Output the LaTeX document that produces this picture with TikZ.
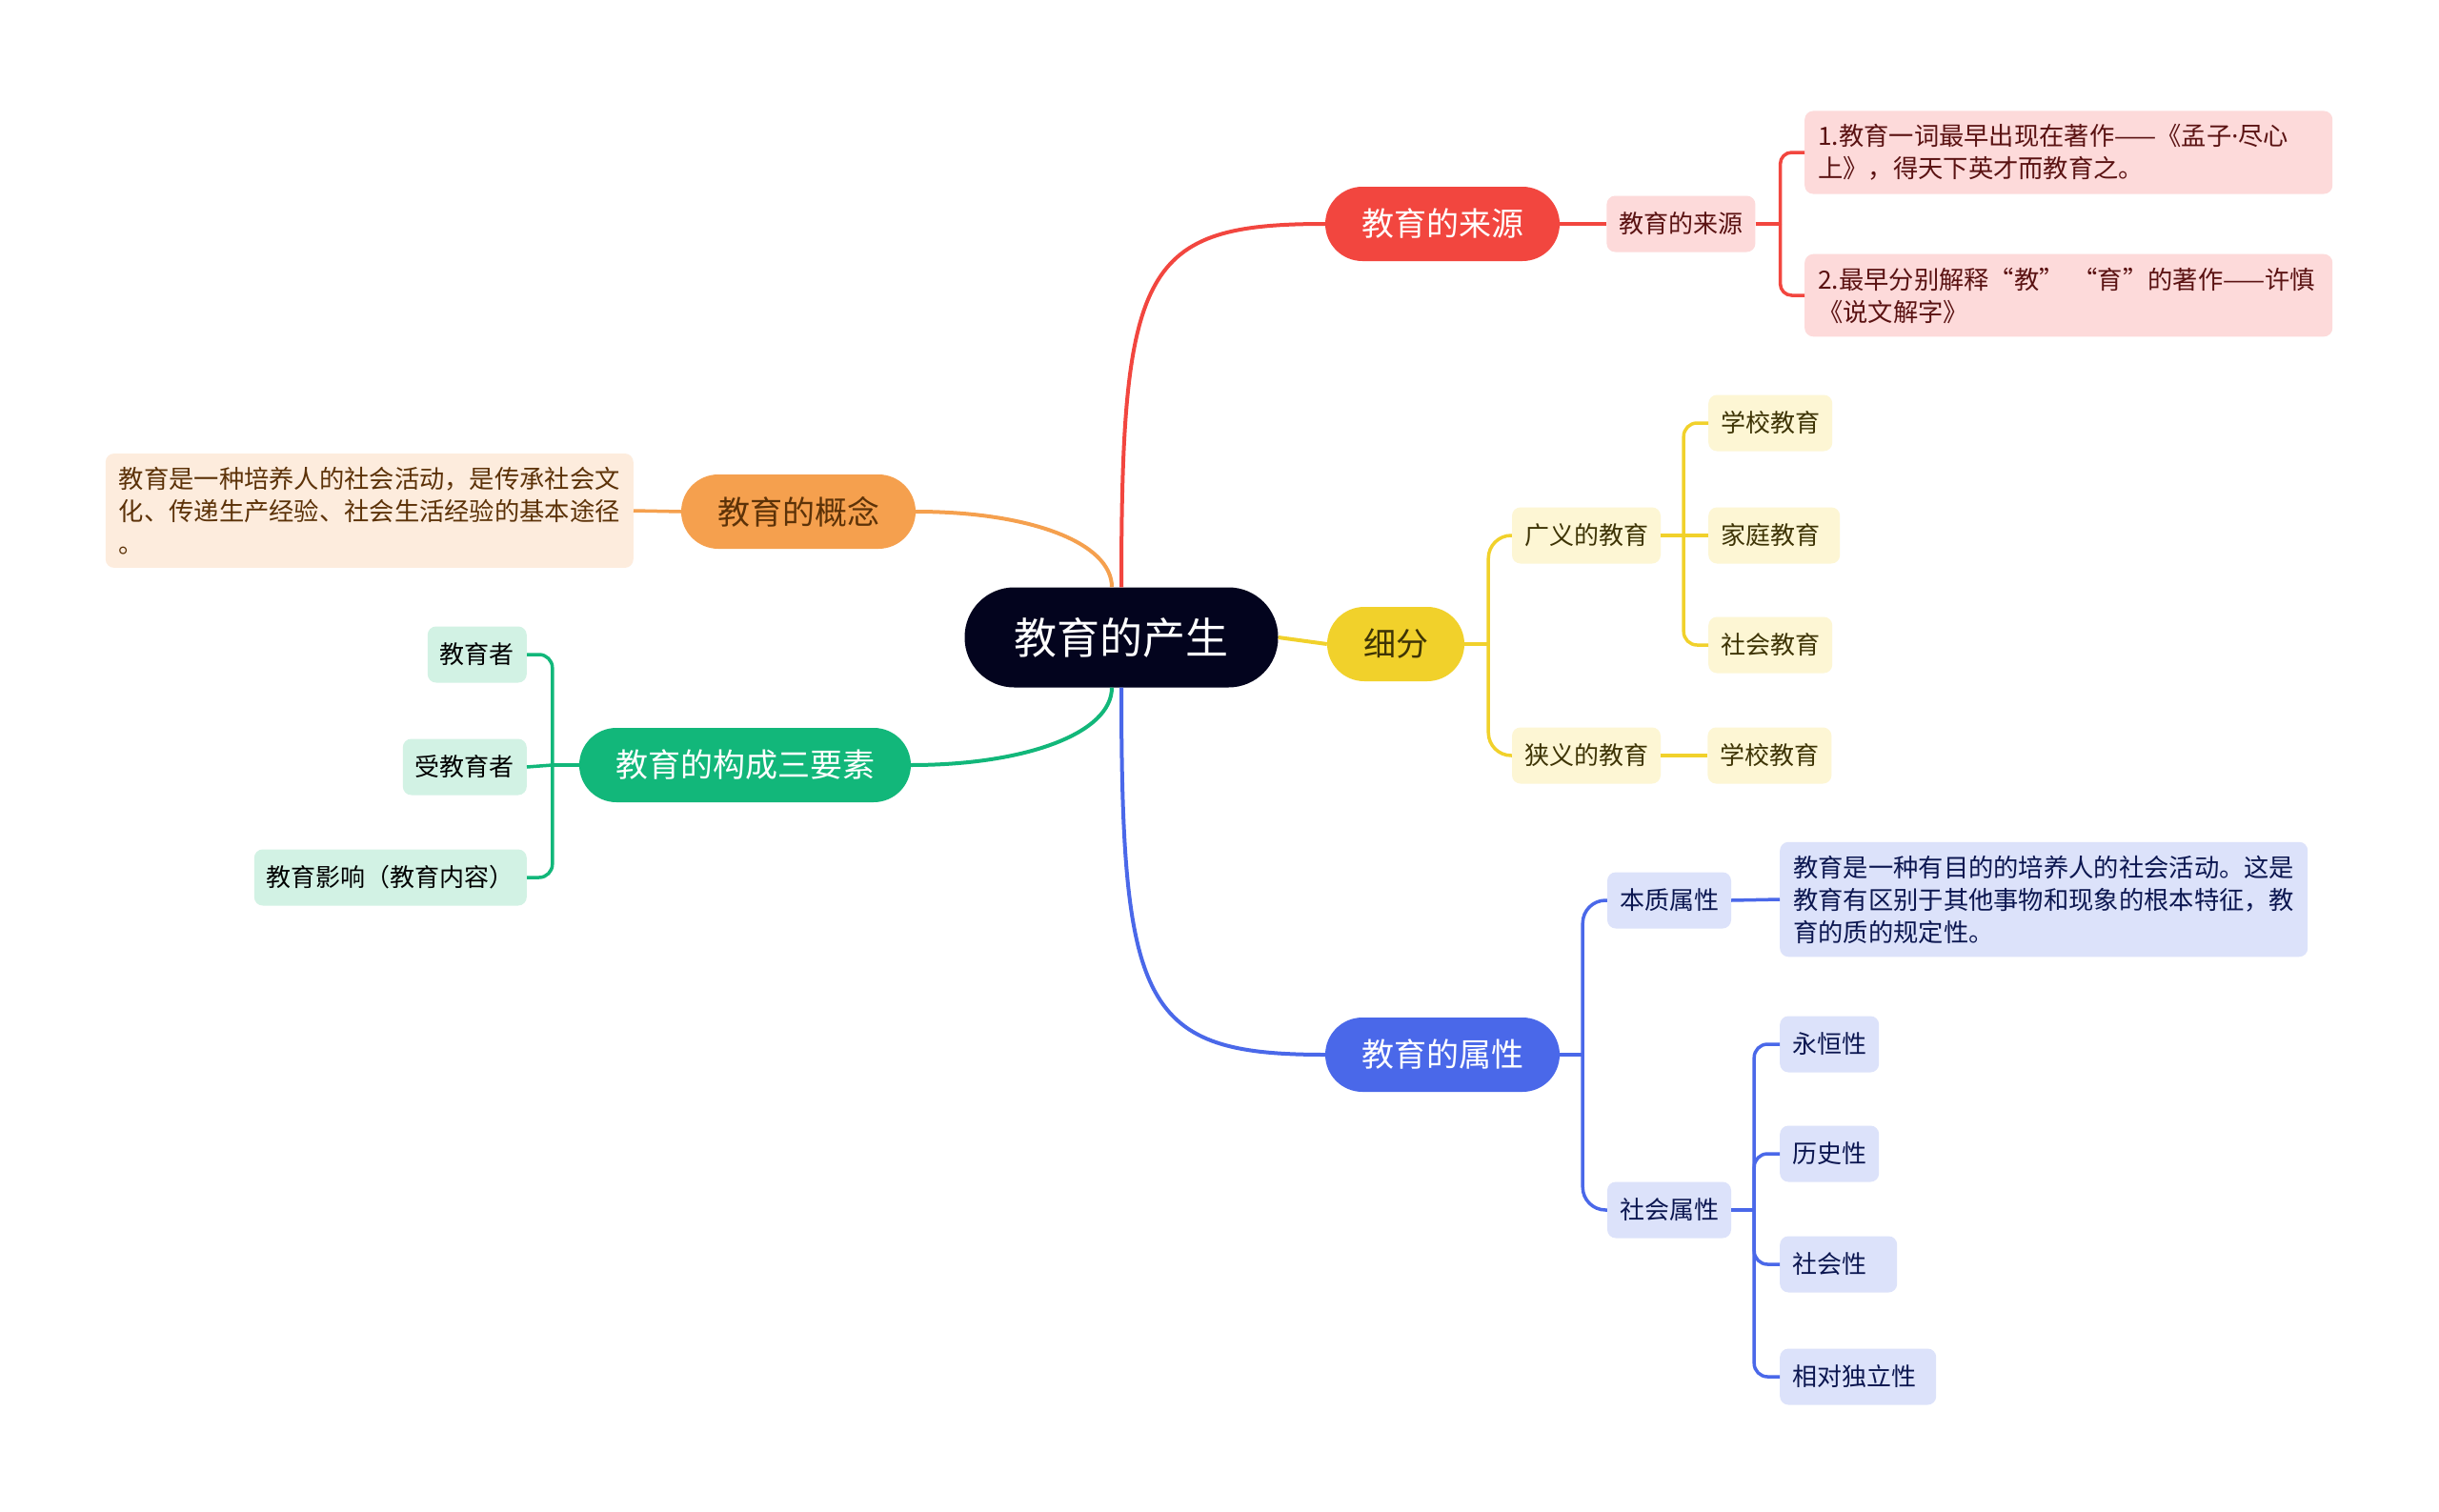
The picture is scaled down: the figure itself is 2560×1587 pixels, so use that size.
\documentclass[tikz,border=0pt]{standalone}
\usepackage{fontspec}
\setmainfont{Noto Sans CJK SC}
\newfontfamily\latinfont{Noto Sans}
\usepackage{xcolor}
\usetikzlibrary{positioning,calc}
\definecolor{RootNavy}{HTML}{03041E}
\definecolor{SrcRed}{HTML}{F2463F}
\definecolor{SoftRed}{HTML}{FDDADA}
\definecolor{InkRed}{HTML}{5A1212}
\definecolor{IdeaOrange}{HTML}{F5A04E}
\definecolor{SoftOrange}{HTML}{FDECDD}
\definecolor{InkOrange}{HTML}{5C3208}
\definecolor{PartGreen}{HTML}{12B77A}
\definecolor{SoftGreen}{HTML}{D2F2E4}
\definecolor{SplitYellow}{HTML}{F1D12B}
\definecolor{SoftYellow}{HTML}{FDF6D4}
\definecolor{InkYellow}{HTML}{3E3405}
\definecolor{AttrBlue}{HTML}{4A68E9}
\definecolor{SoftBlue}{HTML}{DCE2FA}
\definecolor{InkBlue}{HTML}{0B1650}

\begin{document}
\begin{tikzpicture}[x=1pt,y=-1pt]
\tikzset{rootbox/.style={fill=RootNavy,text=white,rounded corners=52pt,minimum height=105pt,inner xsep=52pt,font=\fontsize{45}{54}\selectfont},
         mainbox/.style={fill=#1,text=white,rounded corners=39pt,minimum height=78pt,inner xsep=38pt,font=\fontsize{34}{40}\selectfont},
         leaf/.style={fill=#1,rounded corners=9pt,minimum height=59pt,inner xsep=13pt,font=\fontsize{26}{32}\selectfont},
         note/.style={fill=#1,rounded corners=9pt,text width=526pt,inner xsep=14pt,inner ysep=14pt,align=left,font=\fontsize{26.3}{34}\selectfont},
         trunk/.style={draw=#1,line width=4pt},
         twig/.style={draw=#1,line width=3.5pt}}
\fill[white] (0,0) rectangle (2560,1587);
\useasboundingbox (0,0) rectangle (2560,1587);
% centre and first level
\node[rootbox] (root) at (1177,669) {教育的产生};
\node[mainbox=SrcRed] (src) at (1514,235) {教育的来源};
\node[mainbox=SplitYellow,text=InkYellow] (split) at (1465,676) {细分};
\node[mainbox=AttrBlue] (attr) at (1514,1107) {教育的属性};
\node[mainbox=IdeaOrange,text=InkOrange] (concept) at (838,537) {教育的概念};
\node[mainbox=PartGreen] (three) at (782,803) {教育的构成三要素};
% origin
\node[leaf=SoftRed,text=InkRed,right=49pt of src] (srcsub) {教育的来源};
\node[note=SoftRed,text=InkRed,anchor=west] (srcA) at (1894,160) {1.教育一词最早出现在著作——《孟子{\latinfont ·}尽心\\上》，得天下英才而教育之。};
\node[note=SoftRed,text=InkRed,anchor=west] (srcB) at (1894,310) {2.最早分别解释“教” “育”的著作——许慎\\《说文解字》};
% kinds
\node[leaf=SoftYellow,text=InkYellow] (broad) at (1665,562) {广义的教育};
\node[leaf=SoftYellow,text=InkYellow] (narrow) at (1665,793) {狭义的教育};
\node[leaf=SoftYellow,text=InkYellow,anchor=west] (school) at (1793,444) {学校教育};
\node[leaf=SoftYellow,text=InkYellow,anchor=west] (family) at (1793,562) {家庭教育\rule{8pt}{0pt}};
\node[leaf=SoftYellow,text=InkYellow,anchor=west] (society) at (1793,677) {社会教育};
\node[leaf=SoftYellow,text=InkYellow,right=49pt of narrow] (schoolb) {学校教育};
% attributes
\node[leaf=SoftBlue,text=InkBlue] (essence) at (1752,945) {本质属性};
\node[note=SoftBlue,text=InkBlue,anchor=west] (essText) at (1868,944) {教育是一种有目的的培养人的社会活动。这是\\教育有区别于其他事物和现象的根本特征，教\\育的质的规定性。};
\node[leaf=SoftBlue,text=InkBlue] (social) at (1752,1270) {社会属性};
\node[leaf=SoftBlue,text=InkBlue,anchor=west] (perm) at (1868,1096) {永恒性};
\node[leaf=SoftBlue,text=InkBlue,anchor=west] (hist) at (1868,1211) {历史性};
\node[leaf=SoftBlue,text=InkBlue,anchor=west] (socl) at (1868,1327) {社会性\rule{19pt}{0pt}};
\node[leaf=SoftBlue,text=InkBlue,anchor=west] (indep) at (1868,1445) {相对独立性\rule{8pt}{0pt}};
% concept and elements
\node[note=SoftOrange,text=InkOrange,anchor=east] (conceptText) at (665,536) {教育是一种培养人的社会活动，是传承社会文\\化、传递生产经验、社会生活经验的基本途径\\。};
\node[leaf=SoftGreen,anchor=east] (eduA) at (553,687) {教育者};
\node[leaf=SoftGreen,anchor=east] (eduB) at (553,805) {受教育者};
\node[leaf=SoftGreen,anchor=east] (eduC) at (553,921) {教育影响（教育内容）};
\coordinate (rootup) at ($(root.north)+(-10,0)$);
\coordinate (rootdown) at ($(root.south)+(-10,0)$);
\coordinate (srcfork) at ($(srcsub.east)+(26,0)$);
\coordinate (splitfork) at ($(split.east)+(25,0)$);
\coordinate (broadfork) at ($(broad.east)+(24,0)$);
\coordinate (attrfork) at ($(attr.east)+(24,0)$);
\coordinate (socialfork) at ($(social.east)+(24,0)$);
\coordinate (threefork) at ($(three.west)+(-28,0)$);
% main branches
\draw[trunk=SrcRed] (root.north) .. controls +(0,-337) and +(-191,0) .. (src.west);
\draw[trunk=AttrBlue] (root.south) .. controls +(0,337) and +(-191,0) .. (attr.west);
\draw[trunk=IdeaOrange] (concept.east) .. controls +(119,0) and +(0,-47) .. (rootup);
\draw[trunk=PartGreen] (three.east) .. controls +(120,0) and +(0,48) .. (rootdown);
\draw[trunk=SplitYellow] (root.east) -- (split.west);
% red twigs
\draw[twig=SrcRed] (src.east) -- (srcsub.west);
\draw[twig=SrcRed] (srcsub.east) -- (srcfork);
\draw[twig=SrcRed,rounded corners=12pt] (srcfork) |- (srcA.west);
\draw[twig=SrcRed,rounded corners=12pt] (srcfork) |- (srcB.west);
% yellow twigs
\draw[twig=SplitYellow] (split.east) -- (splitfork);
\draw[twig=SplitYellow,rounded corners=24pt] (splitfork) |- (broad.west);
\draw[twig=SplitYellow,rounded corners=24pt] (splitfork) |- (narrow.west);
\draw[twig=SplitYellow] (broad.east) -- (broadfork);
\draw[twig=SplitYellow,rounded corners=14pt] (broadfork) |- (school.west);
\draw[twig=SplitYellow] (broadfork) -- (family.west);
\draw[twig=SplitYellow,rounded corners=14pt] (broadfork) |- (society.west);
\draw[twig=SplitYellow] (narrow.east) -- (schoolb.west);
% blue twigs
\draw[twig=AttrBlue] (attr.east) -- (attrfork);
\draw[twig=AttrBlue,rounded corners=24pt] (attrfork) |- (essence.west);
\draw[twig=AttrBlue,rounded corners=24pt] (attrfork) |- (social.west);
\draw[twig=AttrBlue] (essence.east) -- (essText.west);
\draw[twig=AttrBlue] (social.east) -- (socialfork);
\draw[twig=AttrBlue,rounded corners=14pt] (socialfork) |- (perm.west);
\draw[twig=AttrBlue,rounded corners=14pt] (socialfork) |- (hist.west);
\draw[twig=AttrBlue,rounded corners=14pt] (socialfork) |- (socl.west);
\draw[twig=AttrBlue,rounded corners=14pt] (socialfork) |- (indep.west);
% orange and green twigs
\draw[twig=IdeaOrange] (concept.west) -- (conceptText.east);
\draw[twig=PartGreen] (three.west) -- (threefork);
\draw[twig=PartGreen,rounded corners=14pt] (threefork) |- (eduA.east);
\draw[twig=PartGreen] (threefork) -- (eduB.east);
\draw[twig=PartGreen,rounded corners=14pt] (threefork) |- (eduC.east);
\end{tikzpicture}
\end{document}
